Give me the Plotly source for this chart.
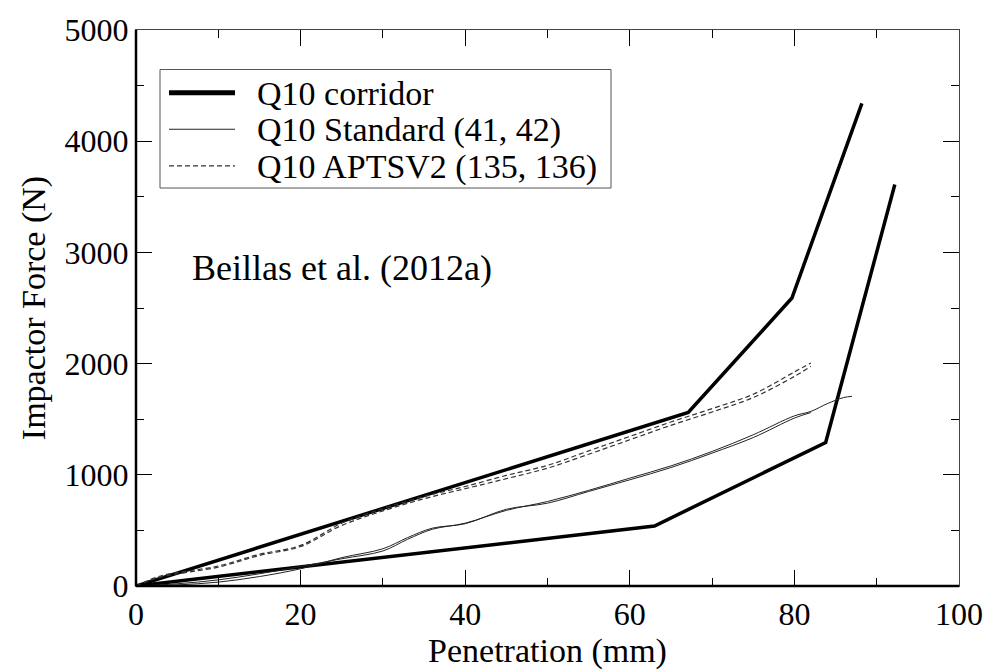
import plotly.graph_objects as go

# Corridor (upper and lower bounds)
corr_up_x = [0, 67.1, 79.7, 88.2]
corr_up_y = [0, 1560, 2590, 4340]
corr_lo_x = [0, 63.0, 83.8, 92.2]
corr_lo_y = [0, 540, 1290, 3610]

# Q10 Standard (41, 42)
std1_x = [0, 5, 10, 15, 20, 25, 30, 33, 36, 40, 45, 50, 55, 60, 65, 70, 75, 80, 82, 84, 86, 87]
std1_y = [0, 20, 55, 110, 175, 245, 315, 420, 510, 565, 680, 760, 860, 970, 1080, 1210, 1360, 1530, 1570, 1640, 1695, 1705]
std2_x = [0, 5, 10, 15, 20, 25, 30, 33, 36, 40, 45, 50, 55, 60, 65, 70, 75, 80, 82]
std2_y = [0, 10, 35, 85, 155, 255, 335, 435, 520, 560, 690, 745, 850, 955, 1065, 1195, 1335, 1510, 1560]

# Q10 APTSV2 (135, 136)
apt1_x = [0, 3, 10, 15, 20, 25, 30, 35, 40, 45, 50, 55, 60, 65, 70, 75, 80, 82]
apt1_y = [0, 90, 180, 285, 365, 565, 695, 805, 895, 995, 1085, 1215, 1345, 1475, 1595, 1725, 1925, 2005]
apt2_x = [0, 3, 10, 15, 20, 25, 30, 35, 40, 45, 50, 55, 60, 65, 70, 75, 80, 82]
apt2_y = [0, 80, 170, 275, 355, 545, 675, 785, 875, 965, 1060, 1185, 1315, 1445, 1565, 1695, 1885, 1975]

x_ticks = [0, 20, 40, 60, 80, 100]
y_ticks = [0, 1000, 2000, 3000, 4000, 5000]

legend_labels = ["Q10 corridor", "Q10 Standard (41, 42)", "Q10 APTSV2 (135, 136)"]

FONT = "Liberation Serif, Times New Roman, Times, serif"

L, R, T, B = 136, 42, 23, 70
W, H = 1001, 670
PW, PH = W - L - R, H - T - B


def px(xp):
    return (xp - L) / PW


def py(yp):
    return (H - B - yp) / PH


corr_line = dict(color="black", width=3.5)
std_line = dict(color="#222", width=1, shape="spline")
apt_line = dict(color="#333", width=1.2, dash="5px,3px", shape="spline")

fig = go.Figure()
fig.add_trace(go.Scatter(x=corr_up_x, y=corr_up_y, mode="lines", name=legend_labels[0], line=corr_line))
fig.add_trace(go.Scatter(x=corr_lo_x, y=corr_lo_y, mode="lines", name=legend_labels[0], line=corr_line))
fig.add_trace(go.Scatter(x=std1_x, y=std1_y, mode="lines", name=legend_labels[1], line=std_line))
fig.add_trace(go.Scatter(x=std2_x, y=std2_y, mode="lines", name=legend_labels[1], line=std_line))
fig.add_trace(go.Scatter(x=apt1_x, y=apt1_y, mode="lines", name=legend_labels[2], line=apt_line))
fig.add_trace(go.Scatter(x=apt2_x, y=apt2_y, mode="lines", name=legend_labels[2], line=apt_line))

axis_font = dict(family=FONT, size=32, color="black")

common = dict(ticks="inside", ticklen=16, tickwidth=1, tickcolor="black", mirror="allticks",
              showline=True, linecolor="#444", linewidth=1, showgrid=False, zeroline=False,
              tickfont=axis_font)

fig.update_layout(
    width=W, height=H,
    margin=dict(l=L, r=R, t=T, b=B),
    paper_bgcolor="white", plot_bgcolor="white",
    font=dict(family=FONT, color="black"),
    showlegend=False,
    xaxis=dict(range=[0, 100], tickvals=x_ticks,
               minor=dict(ticks="inside", ticklen=8, dtick=10, tickcolor="black", showgrid=False),
               title=dict(text="Penetration (mm)", font=dict(family=FONT, size=34, color="black"), standoff=2),
               **common),
    yaxis=dict(range=[0, 5000], tickvals=y_ticks,
               minor=dict(ticks="inside", ticklen=8, dtick=500, tickcolor="black", showgrid=False),
               title=dict(text="Impactor Force (N)", font=dict(family=FONT, size=34, color="black"), standoff=8),
               **common),
)

# thicker left and bottom spines
fig.add_shape(type="line", xref="paper", yref="paper", x0=0, x1=1, y0=0, y1=0,
              line=dict(color="black", width=2.5))
fig.add_shape(type="line", xref="paper", yref="paper", x0=0, x1=0, y0=0, y1=1,
              line=dict(color="black", width=2.5))

# legend box (drawn manually)
fig.add_shape(type="rect", xref="paper", yref="paper", x0=px(160), x1=px(611), y0=py(187), y1=py(64),
              line=dict(color="#555", width=1), fillcolor="white", layer="above")
row_y = [88, 126, 164]
samples = [dict(color="black", width=5), dict(color="#222", width=1), dict(color="#333", width=1.2, dash="5px,3px")]
for lab, ry, st in zip(legend_labels, row_y, samples):
    fig.add_shape(type="line", xref="paper", yref="paper", x0=px(169), x1=px(235), y0=py(ry), y1=py(ry),
                  line=st, layer="above")
    fig.add_annotation(text=lab, xref="paper", yref="paper", x=px(255), y=py(ry + 1),
                       xanchor="left", yanchor="middle", showarrow=False,
                       font=dict(family=FONT, size=34, color="black"))

fig.add_annotation(text="Beillas et al. (2012a)", xref="paper", yref="paper",
                   x=px(190), y=py(270), xanchor="left", yanchor="middle", showarrow=False,
                   font=dict(family=FONT, size=36, color="black"))

fig.write_html("out.html")
